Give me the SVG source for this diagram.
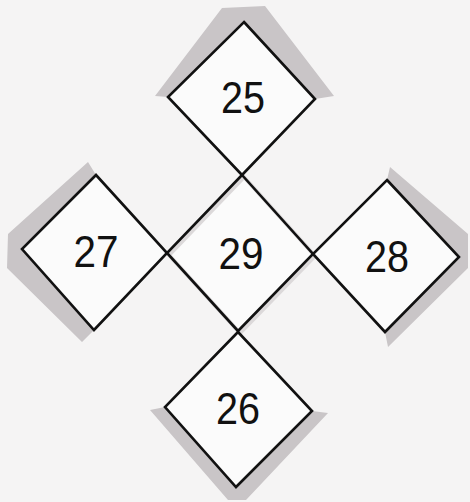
<svg xmlns="http://www.w3.org/2000/svg" width="470" height="502" viewBox="0 0 470 502">
<style>
.bg{fill:#f5f4f4}
.sh{fill:#c9c5c7}
.dm{fill:#fbfbfb;stroke:#111;stroke-width:2.6;stroke-linejoin:miter}
.num{font-family:"Liberation Sans",Arial,sans-serif;font-size:45px;fill:#111;text-anchor:middle}
</style>
<rect class="bg" x="0" y="0" width="470" height="502"/>
<g id="shadows">
<polygon class="sh" points="155,96 222,8 265,6 334,96 315,99 244,22 168,97"/>
<polygon class="sh" points="88,162 96,175 22,249 94,330 82,342 7,268 8,234"/>
<polygon class="sh" points="390,167 468,234 468,268 388,347 385,332 459,257 387,180"/>
<polygon class="sh" points="150,410 228,500 246,500 328,413 312,411 236,487 165,407"/>
</g>
<g id="n29">
<polygon class="dm" points="242,175 313,254 238,331 167,253" style="stroke:#dcd9da;stroke-width:4" transform="translate(2,2)"/>
<polygon class="dm" points="242,175 313,254 238,331 167,253" fill-opacity="0"/>
<text class="num" x="241" y="269" textLength="45" lengthAdjust="spacingAndGlyphs">29</text>
</g>
<g id="n25">
<polygon class="dm" points="244,22 315,99 242,175 168,97"/>
<text class="num" x="243" y="113" textLength="44" lengthAdjust="spacingAndGlyphs">25</text>
</g>
<g id="n27">
<polygon class="dm" points="96,175 167,253 94,330 22,249"/>
<text class="num" x="96" y="267" textLength="45" lengthAdjust="spacingAndGlyphs">27</text>
</g>
<g id="n28">
<polygon class="dm" points="387,180 459,257 385,332 313,254"/>
<text class="num" x="387" y="272" textLength="44" lengthAdjust="spacingAndGlyphs">28</text>
</g>
<g id="n26">
<polygon class="dm" points="238,332 312,411 236,487 165,407"/>
<text class="num" x="238" y="424" textLength="44" lengthAdjust="spacingAndGlyphs">26</text>
</g>
<g id="connectors"/>
</svg>
